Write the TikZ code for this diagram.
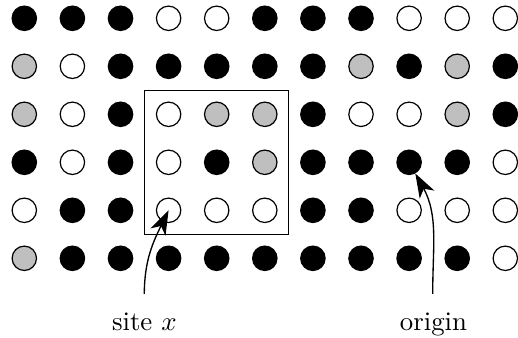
\documentclass[tikz,border=0pt]{standalone}
\usetikzlibrary{arrows.meta,calc}
\begin{document}
\begin{tikzpicture}[x=0.373pt,y=0.373pt,
  dot/.style={circle,draw=black,line width=0.45pt,minimum size=9.1pt,inner sep=0pt},
  dotB/.style={dot,fill=black},
  dotW/.style={dot,fill=white},
  dotG/.style={dot,fill=black!25},
  pointer/.style={line width=0.5pt,-{Stealth[length=9pt,width=6.2pt,inset=2.5pt]}},
  lab/.style={anchor=base,inner sep=0pt,font=\normalsize}]
\path[use as bounding box] (0,0) rectangle (518,338);
\foreach \rowlist [count=\r] in {
  {B,B,B,W,W,B,B,B,W,W,W},
  {G,W,B,B,B,B,B,G,B,G,B},
  {G,W,B,W,G,G,B,W,W,G,B},
  {B,W,B,W,B,G,B,B,B,B,W},
  {W,B,B,W,W,W,B,B,W,W,W},
  {G,B,B,B,B,B,B,B,B,B,W}} {
  \foreach \s [count=\c] in \rowlist {
    \node[dot\s] (c-\r-\c) at ({24.3+48.1*(\c-1)},{338-18.3-48*(\r-1)}) {};
  }
}
\draw[line width=0.45pt] ($(c-2-3)!0.5!(c-3-4)$) rectangle ($(c-5-6)!0.5!(c-6-7)$);
\node[lab] (site) at (144.3,7) {site $x$};
\node[lab] (origin) at (433.5,7) {origin};
\coordinate (siteS) at (144.3,44);
\coordinate (originS) at (432.7,44);
\draw[pointer] (siteS) to[out=90,in=-116] (c-5-4.center);
\draw[pointer] (originS) to[out=90,in=-61] (c-4-9);
\end{tikzpicture}
\end{document}
